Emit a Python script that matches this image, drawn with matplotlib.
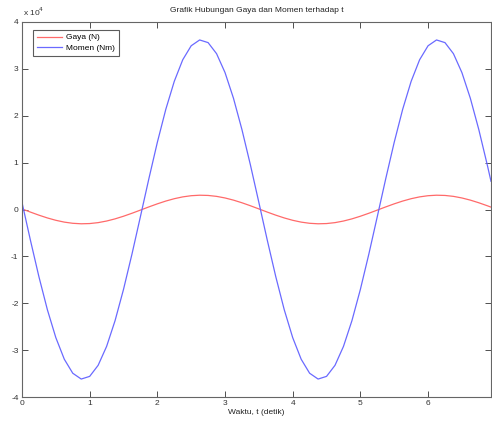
import matplotlib
matplotlib.use("Agg")
import matplotlib.pyplot as plt
from matplotlib.ticker import FuncFormatter

plt.rcParams['font.family'] = ['Liberation Sans', 'DejaVu Sans']

# Data (t step 0.125 s, last sample at the right edge)
t = [0.000, 0.125, 0.250, 0.375, 0.500, 0.625, 0.750, 0.875,
     1.000, 1.125, 1.250, 1.375, 1.500, 1.625, 1.750, 1.875,
     2.000, 2.125, 2.250, 2.375, 2.500, 2.625, 2.750, 2.875,
     3.000, 3.125, 3.250, 3.375, 3.500, 3.625, 3.750, 3.875,
     4.000, 4.125, 4.250, 4.375, 4.500, 4.625, 4.750, 4.875,
     5.000, 5.125, 5.250, 5.375, 5.500, 5.625, 5.750, 5.875,
     6.000, 6.125, 6.250, 6.375, 6.500, 6.625, 6.750, 6.875, 6.930]

gaya = [126, -555, -1208, -1801, -2304, -2691, -2943, -3047,
        -2999, -2801, -2461, -1999, -1436, -801, -126, 555,
        1208, 1801, 2304, 2691, 2943, 3047, 2999, 2801,
        2461, 1999, 1436, 801, 126, -555, -1208, -1801,
        -2304, -2691, -2943, -3047, -2999, -2801, -2461, -1999,
        -1436, -801, -126, 555, 1208, 1801, 2304, 2691,
        2943, 3047, 2999, 2801, 2461, 1999, 1436, 801, 507]

momen = [1500, -6590, -14340, -21380, -27340, -31940, -34930, -36170,
         -35600, -33240, -29210, -23720, -17040, -9510, -1500, 6590,
         14340, 21380, 27340, 31940, 34930, 36170, 35600, 33240,
         29210, 23720, 17040, 9510, 1500, -6590, -14340, -21380,
         -27340, -31940, -34930, -36170, -35600, -33240, -29210, -23720,
         -17040, -9510, -1500, 6590, 14340, 21380, 27340, 31940,
         34930, 36170, 35600, 33240, 29210, 23720, 17040, 9510, 6020]

xticks = [0, 1, 2, 3, 4, 5, 6]
yticks = [-40000, -30000, -20000, -10000, 0, 10000, 20000, 30000, 40000]

fig = plt.figure(figsize=(4.92, 4.21), dpi=100)
ax = fig.add_axes([22 / 492, 24 / 421, 469 / 492, 375 / 421])

ax.plot(t, gaya, color='#ff6a6a', lw=0.9, label='Gaya (N)')
ax.plot(t, momen, color='#6a6aff', lw=0.9, label='Momen (Nm)')

ax.set_xlim(0, 6.93)
ax.set_ylim(-40000, 40000)
ax.set_xticks(xticks)
ax.set_yticks(yticks)
ax.yaxis.set_major_formatter(FuncFormatter(lambda v, p: '%d' % round(v / 1e4)))
ax.tick_params(direction='in', length=4, width=0.6, top=True, right=True,
               labelsize=6, colors='#333333', pad=2.5)
for s in ax.spines.values():
    s.set_color('#666666')
    s.set_linewidth(0.8)

ax.set_title('Grafik Hubungan Gaya dan Momen terhadap t', fontsize=6,
             color='#222222', pad=7)
ax.set_xlabel('Waktu, t (detik)', fontsize=6, color='#222222', labelpad=1)
ax.text(0.003, 1.01, 'x 10$^4$', transform=ax.transAxes, fontsize=6,
        color='#333333', ha='left', va='bottom')

leg = ax.legend(loc='upper left', fontsize=6, frameon=True, fancybox=False,
                borderpad=0.45, handlelength=3.0, handletextpad=0.5,
                labelspacing=0.35, borderaxespad=0,
                bbox_to_anchor=(0.0235, 0.979))
leg.get_frame().set_edgecolor('#333333')
leg.get_frame().set_linewidth(0.8)

fig.savefig('out.png', dpi=100)
plt.close(fig)
